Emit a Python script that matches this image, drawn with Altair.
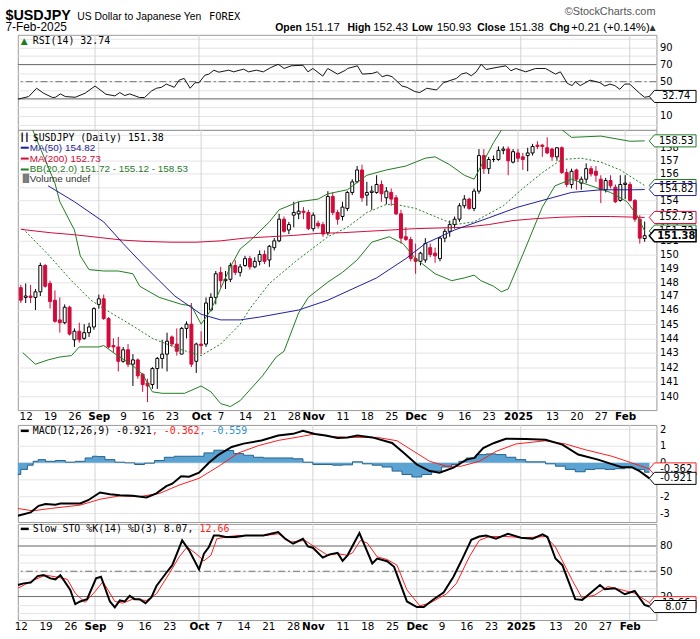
import json
import altair as alt
import pandas as pd

# ---------------------------------------------------------------- data
# trading-day index: -1 = 9 Aug 2024, 0 = 12 Aug 2024 ... 127 = 7 Feb 2025
day = list(range(-1, 128))
opn = [147.6, 146.9, 147.0, 146.9, 147.3, 149.2, 147.9, 146.7, 145.3, 145.1,
       146.2, 143.9, 144.5, 144.0, 144.4, 144.8, 146.4, 146.8, 145.4, 143.5,
       143.4, 142.4, 143.2, 142.2, 142.5, 141.5, 140.9, 140.8, 141.9, 142.6,
       142.9, 144.1, 143.6, 142.9, 144.7, 145.0, 142.4, 143.6, 143.6, 146.0,
       146.9, 148.7, 148.1, 148.2, 149.2, 148.7, 149.2, 149.7, 149.1, 149.5,
       150.0, 149.6, 150.5, 151.0, 152.6, 151.8, 152.9, 153.0, 153.2, 153.1,
       151.9, 152.3, 152.2, 151.6, 154.3, 153.1, 152.8, 153.4, 154.6, 155.4,
       156.3, 154.4, 154.6, 154.6, 155.2, 154.2, 154.6, 154.2, 153.0, 151.3,
       151.1, 149.7, 149.5, 149.6, 150.5, 150.1, 149.7, 151.2, 151.7, 152.2,
       152.6, 153.6, 154.1, 153.4, 154.7, 157.4, 156.4, 157.1, 157.1, 157.8,
       157.9, 156.9, 157.6, 157.3, 157.4, 157.6, 158.2, 158.2, 158.0, 157.9,
       157.3, 158.0, 156.1, 155.2, 156.3, 155.3, 155.6, 156.4, 156.2, 155.6,
       154.8, 155.5, 155.0, 154.0, 155.2, 155.2, 154.0, 152.6, 151.17]
high = [147.8, 147.9, 147.8, 147.5, 149.4, 149.3, 148.1, 147.4, 146.9, 146.4,
        146.3, 144.7, 145.1, 145.0, 145.1, 146.2, 147.1, 147.1, 145.5, 144.0,
        144.1, 143.4, 143.6, 142.9, 142.6, 141.6, 141.2, 142.0, 142.7, 143.9,
        144.4, 144.2, 144.7, 144.8, 145.2, 146.5, 143.7, 144.5, 146.9, 147.2,
        148.8, 149.1, 148.8, 149.4, 149.6, 149.3, 149.9, 149.9, 149.8, 150.3,
        150.3, 150.7, 151.2, 153.0, 152.8, 152.4, 153.9, 153.9, 153.5, 153.3,
        153.1, 152.5, 152.4, 154.7, 154.6, 153.3, 153.9, 154.7, 155.6, 156.6,
        156.7, 155.4, 155.1, 155.9, 155.5, 155.0, 154.9, 154.4, 153.3, 152.0,
        151.3, 150.8, 150.2, 151.2, 150.8, 150.5, 151.3, 151.9, 152.5, 152.8,
        153.8, 154.4, 154.2, 154.9, 157.9, 157.9, 157.3, 157.4, 158.1, 158.1,
        158.1, 157.9, 157.9, 157.6, 158.0, 158.3, 158.5, 158.3, 158.8, 158.0,
        158.0, 158.1, 156.4, 156.4, 156.4, 155.8, 156.8, 156.6, 156.6, 155.9,
        155.7, 155.9, 155.2, 155.9, 155.9, 155.4, 154.1, 152.9, 152.43]
low = [146.5, 146.5, 146.5, 146.0, 147.0, 147.6, 146.1, 145.1, 144.4, 145.0,
       144.2, 143.4, 143.7, 143.9, 144.1, 144.6, 146.1, 145.3, 143.3, 143.0,
       141.7, 142.3, 142.0, 140.7, 141.2, 140.3, 139.6, 140.5, 140.5, 141.9,
       141.7, 143.4, 142.8, 142.9, 144.0, 142.0, 141.6, 142.9, 143.4, 145.9,
       146.4, 147.6, 147.5, 148.0, 148.5, 148.4, 149.1, 148.9, 149.0, 149.2,
       149.3, 149.1, 150.3, 150.9, 151.6, 151.5, 152.0, 152.6, 152.6, 151.8,
       151.7, 151.9, 151.3, 151.4, 152.9, 152.2, 152.5, 153.2, 154.4, 155.3,
       153.9, 153.6, 153.3, 154.5, 153.9, 153.7, 153.6, 152.9, 150.8, 151.0,
       149.5, 148.6, 149.2, 149.4, 149.8, 149.4, 149.5, 150.9, 151.3, 151.9,
       152.4, 153.4, 153.3, 153.2, 154.5, 156.0, 156.0, 156.9, 157.0, 157.5,
       155.9, 156.8, 156.9, 156.3, 156.2, 157.4, 157.9, 157.3, 157.5, 157.0,
       157.0, 156.0, 155.0, 154.9, 154.8, 154.8, 155.3, 155.8, 155.4, 153.8,
       154.6, 154.9, 153.8, 153.9, 154.1, 153.9, 152.4, 150.8, 150.93]
close = [146.7, 147.0, 146.9, 147.3, 149.2, 147.7, 146.6, 145.2, 145.1, 146.2,
         144.3, 144.5, 143.9, 144.4, 144.8, 146.1, 146.8, 145.4, 143.4, 143.4,
         142.4, 143.2, 142.2, 142.5, 141.4, 140.8, 140.7, 141.9, 142.6, 142.9,
         143.8, 143.6, 143.1, 144.7, 145.0, 142.2, 143.6, 143.5, 146.5, 146.9,
         148.6, 148.1, 148.2, 149.2, 148.7, 149.1, 149.7, 149.1, 149.5, 150.0,
         149.5, 150.6, 151.0, 152.6, 151.7, 152.2, 153.1, 153.2, 153.1, 151.9,
         152.9, 152.1, 151.5, 154.3, 153.1, 152.6, 153.5, 154.6, 155.4, 156.3,
         154.2, 154.6, 154.7, 155.2, 154.5, 154.7, 154.1, 153.0, 151.2, 151.1,
         149.7, 149.5, 150.1, 150.8, 150.0, 149.9, 151.2, 151.7, 152.2, 152.6,
         153.6, 154.1, 153.4, 154.7, 157.4, 156.4, 157.1, 157.1, 157.8, 157.9,
         157.0, 157.7, 157.2, 157.1, 157.6, 158.1, 158.1, 158.1, 157.6, 157.3,
         158.0, 156.1, 155.2, 156.2, 155.6, 155.6, 156.4, 156.0, 155.9, 154.8,
         155.5, 155.1, 153.9, 155.2, 155.3, 154.0, 152.6, 151.2, 151.38]

ma50_i = [4.6, 10, 16, 20, 24, 27.4, 30.6, 36, 40, 44, 48, 56, 62, 67, 72, 78,
          82, 88, 95, 101, 108, 112, 118, 125, 127]
ma50_v = [155.1, 153.9, 152.4, 150.8, 149.3, 148.1, 147.0, 145.7, 145.3, 145.3,
          145.5, 146.0, 146.7, 147.5, 148.3, 149.7, 150.8, 151.8, 152.7, 153.5,
          154.2, 154.6, 154.8, 154.8, 154.82]
ma200_i = [-1, 5, 10, 15, 20, 25, 30, 35, 40, 45, 50, 55, 60, 65, 70, 75, 80,
           85, 90, 95, 100, 105, 110, 115, 120, 125, 127]
ma200_v = [151.85, 151.6, 151.45, 151.25, 151.05, 150.95, 150.9, 150.9, 151.0,
           151.2, 151.3, 151.4, 151.55, 151.6, 151.7, 151.8, 151.9, 151.95,
           152.0, 152.2, 152.5, 152.65, 152.75, 152.8, 152.8, 152.75, 152.73]
bbu_i = [-1, 0, 1.4, 6, 7, 10, 11.2, 13, 16, 19, 22, 23.4, 27.4, 32, 34, 36, 38,
         42, 44, 46, 50, 52, 56, 60, 62, 66, 70, 74, 78, 82, 84, 87, 90, 92,
         96, 98, 100, 103, 106, 109, 110, 112, 118, 124, 127]
bbu_v = [161.2, 160.3, 159.4, 155.3, 153.9, 151.8, 149.9, 148.9, 148.8, 148.8,
         148.6, 147.7, 146.9, 146.4, 146.3, 145.0, 146.0, 149.1, 150.4, 151.0,
         152.4, 153.3, 153.9, 154.1, 154.5, 154.8, 155.9, 156.3, 156.6, 157.2,
         157.3, 156.7, 155.9, 155.6, 158.4, 159.6, 160.4, 160.8, 160.6, 159.6,
         159.4, 158.8, 158.9, 158.5, 158.53]
bbm_i = [-0.6, 4.6, 9.4, 13.4, 16, 21.4, 26, 32, 36, 40, 42, 44, 46, 50, 55.4,
         62, 66, 70, 74, 76, 80, 84, 88, 92, 98, 102, 106, 110, 114, 118, 122,
         127]
bbm_v = [151.9, 150.0, 148.1, 146.7, 146.1, 145.0, 144.0, 143.2, 142.8, 143.6,
         144.3, 145.0, 146.1, 147.9, 149.5, 151.3, 152.0, 153.1, 153.7, 153.7,
         153.4, 152.8, 152.2, 152.4, 153.6, 154.9, 156.1, 157.1, 157.2, 156.9,
         156.3, 155.12]
bbl_i = [-0.6, 2, 4.6, 7, 9.4, 11, 15, 16, 18, 22, 24, 26, 28, 32.6, 36, 38, 40,
         42, 44, 48.6, 51.4, 53, 56, 58, 62, 65, 68, 71, 74.6, 77.4, 80, 84,
         87.4, 90, 92, 93.4, 96, 97.6, 99, 102, 106, 108.6, 112, 116, 120,
         123.4, 125.4, 127]
bbl_v = [143.0, 142.2, 142.5, 142.7, 142.8, 143.4, 143.4, 143.5, 143.0, 142.1,
         141.5, 140.3, 140.2, 140.2, 140.7, 140.3, 139.5, 139.3, 139.7, 141.4,
         142.7, 143.1, 145.8, 146.9, 148.0, 148.7, 149.6, 150.9, 151.3, 150.8,
         149.7, 148.6, 148.1, 148.3, 148.5, 148.1, 147.7, 147.3, 147.5, 150.0,
         153.5, 155.1, 155.6, 155.1, 154.6, 153.9, 152.9, 151.72]

rsi_i = [-0.6, 1.6, 3.2, 4.6, 6.4, 7, 8, 9, 11, 13, 15, 17.2, 19, 20, 21, 22, 24,
         25, 26.4, 27.4, 28.4, 29.4, 31, 32, 33, 34.2, 35.2, 36, 37.2, 38, 39,
         40, 42, 43, 45, 46, 47.6, 49, 50.4, 52, 53.2, 54.6, 57, 58, 59, 61, 62,
         64, 65.6, 66, 68, 69, 71, 72, 73, 74, 75, 77, 78, 79.6, 80.6, 82, 84,
         85.4, 88, 89, 90, 91, 92, 93, 94, 96, 98, 99, 100, 102, 104, 106, 108,
         109, 110.4, 111.4, 112, 113, 115, 117, 118, 119, 120, 121, 122, 123,
         125, 126, 127]
rsi_v = [29.5, 32.6, 42.3, 36.5, 31.5, 31.8, 35.7, 32.6, 31.8, 36.5, 44.9, 35.3,
         33.4, 37.3, 33.8, 35.7, 31.5, 31.5, 39.1, 42.3, 43.4, 47.2, 43.4, 51.8,
         53.8, 42.3, 48.8, 48.8, 57.6, 58.8, 63.4, 61.1, 63.4, 61.5, 64.6, 61.5,
         63.4, 61.5, 66.2, 70.3, 65.4, 68.5, 69.2, 61.5, 65.4, 56.5, 65.4, 58.8,
         63.4, 65.4, 68.5, 58.8, 59.6, 61.5, 55.8, 57.6, 55.8, 44.9, 43.4, 38.4,
         37.3, 42.3, 40.3, 48.8, 53.8, 58.8, 60.4, 56.9, 61.5, 70.3, 64.2, 66.5,
         68.5, 62.7, 65.4, 61.5, 65.4, 65.4, 58.8, 61.5, 48.0, 45.4, 50.0, 45.4,
         51.8, 48.8, 44.9, 47.2, 45.4, 41.1, 47.2, 47.2, 36.5, 31.8, 32.74]

macd_i = [-0.6, 2, 3.6, 5, 7, 8, 12, 13.6, 16, 18, 20, 22.6, 25.4, 27.4, 29.4,
          30.6, 32.4, 34, 36, 38, 40, 42.6, 45, 48.6, 52, 55, 57, 59.4, 61.6,
          64, 66, 68, 71, 75, 77.4, 80, 82.6, 84.6, 87.4, 90, 91.6, 93.4, 95.6,
          98, 102, 106, 109.4, 112.6, 116.6, 119.4, 121.4, 123.4, 125, 127]
macd_v = [-3.14, -2.94, -2.55, -2.45, -2.49, -2.41, -2.41, -2.22, -1.76, -1.86,
          -1.92, -1.96, -2.06, -1.81, -1.38, -1.24, -0.79, -0.82, -0.59, 0.0,
          0.49, 0.94, 1.14, 1.33, 1.62, 1.72, 1.90, 1.71, 1.62, 1.47, 1.51,
          1.62, 1.51, 1.18, 0.59, -0.10, -0.49, -0.59, -0.29, 0.19, 0.29, 0.88,
          1.18, 1.43, 1.41, 1.37, 1.08, 0.49, 0.19, -0.08, -0.26, -0.26, -0.49,
          -0.921]
sig_i = [-0.6, 2.4, 6, 12, 16, 20, 24, 28, 32, 36, 40, 44, 48, 52, 56, 59.4,
         62.6, 66, 72, 76, 79.4, 82.6, 86, 89, 92.6, 96, 100, 106, 110, 114,
         119.4, 123.4, 127]
sig_v = [-2.71, -2.85, -2.71, -2.51, -2.16, -1.96, -2.0, -1.82, -1.32, -0.92,
         -0.2, 0.59, 1.02, 1.33, 1.53, 1.71, 1.56, 1.51, 1.51, 1.31, 0.68, 0.09,
         -0.2, -0.2, 0.09, 0.68, 1.12, 1.31, 1.12, 0.78, 0.39, 0.0, -0.362]
hist_i = [-0.7, 0.7, 2, 3, 4, 6, 8, 10, 12, 14, 15, 16, 18, 20, 22, 24, 26, 28,
          30, 32, 34, 36, 38, 40, 42, 44, 46, 48, 50, 52, 54, 56, 58, 60, 62,
          64, 66, 68, 70, 72, 74, 76, 78, 80, 82, 84, 86, 88, 89, 91, 93, 95,
          97, 99, 101, 103, 105, 107, 109, 111, 113, 115, 117, 119, 121, 123,
          125, 127]
hist_v = [-0.69, -0.39, -0.14, 0.09, 0.19, 0.09, 0.14, 0.04, 0.09, 0.29, 0.39,
          0.37, 0.19, 0.04, 0.0, -0.1, -0.02, 0.14, 0.33, 0.39, 0.39, 0.39,
          0.59, 0.75, 0.73, 0.55, 0.45, 0.33, 0.29, 0.29, 0.29, 0.24, 0.04,
          -0.1, -0.1, -0.14, -0.12, 0.06, -0.06, -0.14, -0.25, -0.49, -0.69,
          -0.84, -0.69, -0.49, -0.25, -0.1, 0.09, 0.29, 0.49, 0.53, 0.49, 0.33,
          0.19, 0.06, 0.06, -0.06, -0.2, -0.39, -0.53, -0.39, -0.35, -0.39,
          -0.35, -0.29, -0.39, -0.559]

k_i = [-0.6, 0.6, 2, 3.4, 4.6, 6, 7, 8, 10, 11, 12, 13.4, 15.2, 16.2, 18, 19,
       20, 21, 22, 23, 24, 25.2, 26.4, 27.4, 29.4, 30.6, 32.6, 34, 36, 37, 38,
       39, 40, 41.4, 43.4, 45.4, 49, 52, 53.4, 55, 57, 58, 59, 61, 62.4, 64,
       65, 66, 68.4, 71, 72, 74, 75.4, 78, 80, 81.4, 83.4, 85.4, 87.4, 89, 91,
       92.6, 94, 96, 98.4, 101, 103.4, 105.4, 106.4, 108, 109.4, 112, 113.4,
       114.6, 117, 118, 120, 122, 124, 126, 127]
k_v = [33.6, 35.6, 36.5, 44.2, 45.4, 41.5, 40.4, 45.4, 27.8, 10.9, 14.1, 16.8,
       41.5, 43.5, 14.1, 7.1, 15.3, 14.1, 20.7, 16.8, 16.8, 12.1, 19.2, 32.5,
       48.2, 57.2, 86.6, 74.8, 52.1, 70.9, 78.8, 92.5, 92.5, 90.6, 90.6, 92.5,
       92.5, 96.5, 88.6, 82.7, 88.6, 79.5, 78.0, 66.2, 70.1, 71.8, 62.4, 68.9,
       95.3, 59.2, 65.1, 61.9, 55.3, 14.1, 7.4, 7.4, 16.8, 24.7, 43.5, 62.4,
       87.4, 91.3, 92.5, 88.6, 94.5, 89.8, 88.6, 93.7, 90.6, 65.1, 57.2, 16.8,
       16.0, 21.9, 33.6, 28.6, 29.8, 22.7, 26.6, 10.1, 8.07]
d_i = [-0.6, 2.6, 5, 7.6, 9.4, 11, 13, 15, 16.6, 19, 20.6, 22.6, 25.4, 27.4, 30,
       32, 33.6, 35.4, 37, 38.4, 39.6, 42, 44, 49.4, 52, 54.6, 57.4, 60, 62, 64,
       66, 67, 68.6, 70, 72, 74, 76, 78, 80.6, 82.6, 86, 88, 90.6, 92.6, 94.6,
       98, 102, 106, 108, 111.4, 113.4, 116, 118.6, 121.4, 124, 127]
d_v = [29.8, 39.5, 45.4, 42.7, 40.4, 23.9, 12.9, 25.9, 37.6, 14.1, 12.1, 16.8,
       15.3, 23.1, 47.4, 67.1, 78.8, 70.9, 62.4, 68.9, 88.6, 91.3, 92.5, 92.5,
       94.5, 84.7, 86.6, 76.5, 68.9, 70.9, 68.9, 71.8, 86.6, 83.5, 67.1, 63.9,
       57.2, 27.8, 8.9, 12.1, 23.1, 35.6, 67.1, 86.6, 91.3, 91.3, 89.8, 91.3,
       78.8, 39.2, 18.0, 21.9, 31.8, 27.8, 23.9, 12.66]

tick_idx = [0, 5, 10, 15, 20, 25, 30, 36, 40, 45, 50, 55, 59, 65, 70, 75, 80,
            85, 90, 95, 101, 108, 113, 118, 123]
tick_lab = ["12", "19", "26", "Sep", "9", "16", "23", "Oct", "7", "14", "21",
            "28", "Nov", "11", "18", "25", "Dec", "9", "16", "23", "2025", "13",
            "20", "27", "Feb"]
month_idx = [15, 36, 59, 80, 101, 123]

# ---------------------------------------------------------------- style
FONT = "DejaVu Sans"
MONO = "DejaVu Sans Mono"
SANS = "Liberation Sans"
RED = "#d10a3a"
GREEN = "#1f7a1f"
BLUE = "#1c1c9c"
GRID = "#e4e4e4"
MGRID = "#d2d2d2"
REF = "#707070"
W = 645

xs = alt.Scale(domain=[-0.6, 128.4], nice=False, zero=False)
LABEL_EXPR = f"{json.dumps(tick_lab)}[indexof({json.dumps(tick_idx)}, datum.value)]"
BOLD_TEST = f"indexof({json.dumps(month_idx)}, datum.value) >= 0"
XAX = alt.Axis(values=tick_idx, labelExpr=LABEL_EXPR,
               labelFontWeight={"condition": {"test": BOLD_TEST, "value": "bold"}, "value": "normal"},
               grid=False, ticks=False, domain=False, labelFont=FONT, labelFontSize=10.5,
               labelPadding=2, labelColor="#000", labelOverlap=False, labelFlush=False,
               title=None)

one = pd.DataFrame({"k": [0]})


def X(axis=None):
    return alt.X("i:Q", scale=xs, axis=axis)


def yaxis(values, expr=None):
    kw = dict(orient="right", values=values, grid=True, gridColor=GRID, ticks=False,
              domain=False, labelFont=FONT, labelFontSize=10, labelPadding=3,
              labelColor="#000", title=None, labelOverlap=False)
    if expr:
        kw["labelExpr"] = expr
    return alt.Axis(**kw)


def text(s, x, y, size=10, color="#000", weight="normal", font=FONT, align="left",
         baseline="middle"):
    return alt.Chart(one).mark_text(text=s, fontSize=size, color=color, fontWeight=weight,
                                    font=font, align=align, baseline=baseline).encode(
        x=alt.value(x), y=alt.value(y))


def hline(x1, x2, y, color, width=2.0):
    return alt.Chart(one).mark_rule(color=color, strokeWidth=width).encode(
        x=alt.value(x1), x2=alt.value(x2), y=alt.value(y))


def line(iv, vv, ys, yax, color, width=1.0, dash=None, xax=None):
    df = pd.DataFrame({"i": iv, "v": vv})
    kw = dict(color=color, strokeWidth=width, clip=True)
    if dash:
        kw["strokeDash"] = dash
    return alt.Chart(df).mark_line(**kw).encode(
        x=X(xax), y=alt.Y("v:Q", scale=ys, axis=yax))


def months(xax=None):
    return alt.Chart(pd.DataFrame({"i": month_idx})).mark_rule(
        color=MGRID, strokeWidth=1).encode(x=X(xax))


def refs(vals, ys, yax, dash=None):
    kw = dict(color=REF, strokeWidth=1)
    if dash:
        kw["strokeDash"] = dash
    return alt.Chart(pd.DataFrame({"v": vals})).mark_rule(**kw).encode(
        y=alt.Y("v:Q", scale=ys, axis=yax))


TAG = "M-1.25,0L-1,-0.29L1,-0.29L1,0.29L-1,0.29Z"


def tag(val, s, ys, yax, stroke, bold=False, sw=1.0):
    df = pd.DataFrame({"v": [val]})
    y = alt.Y("v:Q", scale=ys, axis=yax)
    box = alt.Chart(df).mark_point(shape=TAG, size=1764, filled=True, fill="white",
                                   stroke=stroke, strokeWidth=sw, opacity=1).encode(
        x=alt.value(664), y=y)
    lab = alt.Chart(df).mark_text(fontSize=10, font=FONT, color="#000", align="center",
                                  baseline="middle",
                                  fontWeight="bold" if bold else "normal").encode(
        x=alt.value(665), y=y, text=alt.value(s))
    return [box, lab]


# ---------------------------------------------------------------- RSI panel + header
ys_rsi = alt.Scale(domain=[-6.3, 104.7], nice=False, zero=False)
yax_rsi = yaxis(list(range(0, 101, 10)),
                "indexof([10,30,50,70,90], datum.value) >= 0 ? datum.label : ''")
header = [
    alt.Chart(one).mark_rule(opacity=0).encode(x=alt.value(-17), x2=alt.value(-16),
                                               y=alt.value(-31)),
    text("$USDJPY", -12.5, -15, size=14.5, weight="bold", font=SANS, baseline="alphabetic"),
    text("US Dollar to Japanese Yen", 60, -15, size=10.5, font=SANS, baseline="alphabetic"),
    text("FOREX", 193, -15, size=10.5, font=MONO, baseline="alphabetic"),
    text("\u00a9StockCharts.com", 644, -20, size=11, font=SANS, color="#555",
         align="right", baseline="alphabetic"),
    text("7-Feb-2025", -12.5, -4, size=12, font=SANS, baseline="alphabetic"),
]
ohlc = [("Open", 260, True), ("151.17", 290, False), ("High", 333, True),
        ("152.43", 359, False), ("Low", 398, True), ("150.93", 423, False),
        ("Close", 464, True), ("151.38", 496, False), ("Chg", 537, True),
        ("+0.21 (+0.14%)", 559, False)]
for s, x, b in ohlc:
    header.append(text(s, x, -4, size=10.5 if b else 11.5, font=SANS,
                       weight="bold" if b else "normal", baseline="alphabetic"))
header.append(text("\u25b2", 638, -5, size=8, color="#333", baseline="alphabetic"))

rsi = alt.layer(
    months(),
    refs([30, 70], ys_rsi, yax_rsi),
    refs([50], ys_rsi, yax_rsi, dash=[7, 3, 2, 3]),
    line(rsi_i, rsi_v, ys_rsi, yax_rsi, "#111"),
    text("\u25b2", 3, 6, size=9, color=GREEN),
    text(f"RSI(14) {rsi_v[-1]:.2f}", 15, 6, font=MONO),
    *header,
    *tag(rsi_v[-1], f"{rsi_v[-1]:.2f}", ys_rsi, yax_rsi, "#000"),
).properties(width=W, height=96)

# ---------------------------------------------------------------- price panel
ys_main = alt.Scale(type="log", domain=[139.06, 159.38], nice=False)
yax_main = yaxis(list(range(139, 160)),
                 "datum.value >= 140 && datum.value <= 158 ? format(datum.value, '.0f') : ''")
cdf = pd.DataFrame({"i": day, "o": opn, "h": high, "l": low, "c": close})
UP = "datum.c >= datum.o"
wick = alt.Chart(cdf).mark_rule(strokeWidth=1, clip=True).encode(
    x=X(XAX), y=alt.Y("l:Q", scale=ys_main, axis=yax_main), y2="h:Q",
    color=alt.condition(UP, alt.value("#000"), alt.value(RED)))
body = alt.Chart(cdf).mark_bar(size=3, strokeWidth=1, clip=True).encode(
    x=X(XAX), y=alt.Y("o:Q", scale=ys_main, axis=yax_main), y2="c:Q",
    fill=alt.condition(UP, alt.value("#ffffff"), alt.value(RED)),
    stroke=alt.condition(UP, alt.value("#000"), alt.value(RED)))

main = alt.layer(
    months(XAX),
    wick, body,
    line(bbu_i, bbu_v, ys_main, yax_main, GREEN, xax=XAX),
    line(bbl_i, bbl_v, ys_main, yax_main, GREEN, xax=XAX),
    line(bbm_i, bbm_v, ys_main, yax_main, GREEN, dash=[2, 2], xax=XAX),
    line(ma200_i, ma200_v, ys_main, yax_main, RED, xax=XAX),
    line(ma50_i, ma50_v, ys_main, yax_main, BLUE, xax=XAX),
    text("\u2503\u2503", 2, 8, size=8),
    text(f"$USDJPY (Daily) {close[-1]:.2f}", 15, 8, font=MONO),
    hline(3, 11, 18, BLUE), text(f"MA(50) {ma50_v[-1]:.2f}", 12, 18, font=SANS, color=BLUE),
    hline(3, 11, 29, RED), text(f"MA(200) {ma200_v[-1]:.2f}", 12, 29, font=SANS, color=RED),
    hline(3, 11, 40, GREEN),
    text(f"BB(20,2.0) {bbl_v[-1]:.2f} - {bbm_v[-1]:.2f} - {bbu_v[-1]:.2f}", 12, 40,
         font=SANS, color=GREEN),
    text("\u2590\u258c", 2, 50, size=8, color="#777"),
    text("Volume undef", 12, 50, font=SANS, color="#333"),
    *tag(bbu_v[-1], f"{bbu_v[-1]:.2f}", ys_main, yax_main, GREEN),
    *tag(bbm_v[-1], f"{bbm_v[-1]:.2f}", ys_main, yax_main, GREEN),
    *tag(ma50_v[-1], f"{ma50_v[-1]:.2f}", ys_main, yax_main, BLUE),
    *tag(ma200_v[-1], f"{ma200_v[-1]:.2f}", ys_main, yax_main, RED),
    *tag(bbl_v[-1], f"{bbl_v[-1]:.2f}", ys_main, yax_main, GREEN),
    *tag(close[-1], f"{close[-1]:.2f}", ys_main, yax_main, "#000", bold=True, sw=1.5),
).properties(width=W, height=283)

# ---------------------------------------------------------------- MACD panel
ys_macd = alt.Scale(domain=[-3.51, 2.25], nice=False, zero=False)
yax_macd = yaxis([-3, -2, -1, 0, 1, 2], "'' + datum.value")
hdf = pd.DataFrame({"i": hist_i, "v": hist_v})
hist = alt.Chart(hdf).mark_area(interpolate="step", color="#5aa3d2", opacity=1,
                                line={"color": "#24628f", "strokeWidth": 1},
                                clip=True).encode(
    x=X(), y=alt.Y("v:Q", scale=ys_macd, axis=yax_macd), y2=alt.datum(0))
cw = 6.02
seg1 = f"MACD(12,26,9) {macd_v[-1]:.3f}"
seg2 = f", {sig_v[-1]:.3f}"
seg3 = f", {hist_v[-1]:.3f}"
macd = alt.layer(
    months(),
    hist,
    line(sig_i, sig_v, ys_macd, yax_macd, "#ff1a1a", 1.0),
    line(macd_i, macd_v, ys_macd, yax_macd, "#000", 2.0),
    hline(3, 11, 6, "#000", 2.5),
    text(seg1, 15, 6, font=MONO),
    text(seg2, 15 + cw * len(seg1), 6, font=MONO, color="#ff1a1a"),
    text(seg3, 15 + cw * (len(seg1) + len(seg2)), 6, font=MONO, color="#2f93c8"),
    *tag(sig_v[-1], f"{sig_v[-1]:.3f}", ys_macd, yax_macd, "#ff1a1a"),
    *tag(macd_v[-1], f"{macd_v[-1]:.3f}", ys_macd, yax_macd, "#000"),
).properties(width=W, height=98)

# ---------------------------------------------------------------- Slow STO panel
ys_sto = alt.Scale(domain=[-7.9, 106.2], nice=False, zero=False)
yax_sto = yaxis(list(range(0, 101, 10)),
                "indexof([20,50,80], datum.value) >= 0 ? datum.label : ''")
s1 = f"Slow STO %K(14) %D(3) {k_v[-1]:.2f}, "
sto = alt.layer(
    months(XAX),
    refs([20, 80], ys_sto, yax_sto),
    refs([50], ys_sto, yax_sto, dash=[7, 3, 2, 3]),
    line(d_i, d_v, ys_sto, yax_sto, "#ff1a1a", 1.0, xax=XAX),
    line(k_i, k_v, ys_sto, yax_sto, "#000", 2.0, xax=XAX),
    hline(3, 11, 5, "#000", 2.5),
    text(s1, 15, 5, font=MONO),
    text(f"{d_v[-1]:.2f}", 15 + cw * len(s1), 5, font=MONO, color="#ff1a1a"),
    *tag(d_v[-1], f"{d_v[-1]:.2f}", ys_sto, yax_sto, "#ff1a1a"),
    *tag(k_v[-1], f"{k_v[-1]:.2f}", ys_sto, yax_sto, "#000"),
).properties(width=W, height=97)


def spacer(h):
    return alt.Chart(one).mark_point(opacity=0).encode(
        x=alt.value(0), y=alt.value(0)).properties(
        width=W, height=h, view=alt.ViewBackground(stroke="transparent"))


chart = alt.vconcat(rsi, main, spacer(15), macd, spacer(2), sto,
                    spacing=0, bounds="flush").properties(
    padding=0, background="white"
).configure_view(stroke="#9a9a9a", strokeWidth=1).configure_axis(labelColor="#000")

chart.save("out.html", embed_options={"renderer": "svg", "actions": False})
